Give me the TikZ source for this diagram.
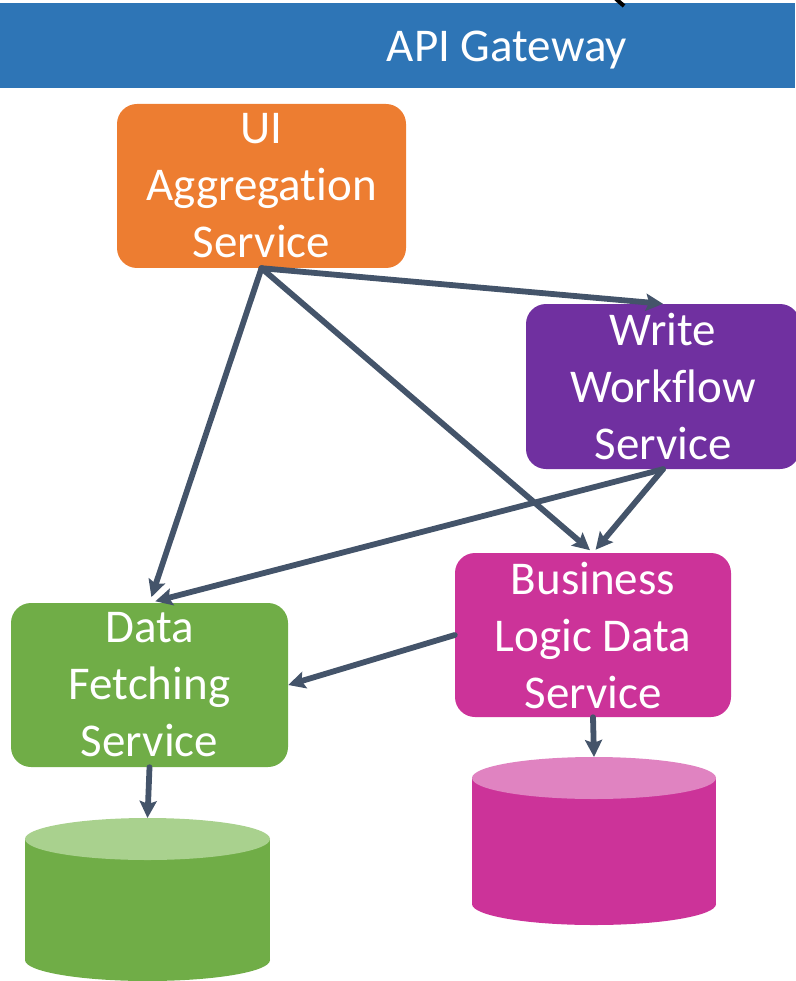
\documentclass[tikz,border=0pt]{standalone}
\usepackage{fontspec}
\setmainfont{Carlito}[Ligatures=NoCommon,Contextuals=NoAlternate]
\usetikzlibrary{arrows.meta}
\definecolor{gwblue}{HTML}{2E75B6}
\definecolor{uiorange}{HTML}{ED7D31}
\definecolor{wwpurple}{HTML}{7030A0}
\definecolor{blmagenta}{HTML}{CC3399}
\definecolor{blmagentalight}{HTML}{E083C1}
\definecolor{dfgreen}{HTML}{70AD47}
\definecolor{dfgreenlight}{HTML}{A9D18E}
\definecolor{arrowc}{HTML}{44546A}
\begin{document}
\begin{tikzpicture}[x=1pt,y=-1pt,
  svc/.style={rounded corners=20pt, inner sep=0pt, align=center, text=white,
    font=\fontsize{47}{57}\selectfont},
  link/.style={draw=arrowc, line width=5.8pt, line cap=round,
    -{Stealth[length=17pt,width=17pt,inset=3pt]}}]
\useasboundingbox (0,0) rectangle (795,981);
% gateway bar
\node[fill=gwblue, minimum width=795pt, minimum height=85pt, inner sep=0pt, anchor=north west] (gw) at (0,3) {};
\node[text=white, font=\fontsize{47}{57}\selectfont, anchor=base, inner sep=0pt] (gwtext) at (507,62) {API Gateway};
\draw[line width=4pt] (616,-1) .. controls (620,2) .. (624,6);
% services
\node[svc, fill=uiorange, minimum width=289pt, minimum height=164pt] (ui) at (261.5,186) {UI\\Aggregation\\Service};
\node[svc, fill=wwpurple, minimum width=274pt, minimum height=165pt] (ww) at (663,386.5) {Write\\Workflow\\Service};
\node[svc, fill=blmagenta, minimum width=276pt, minimum height=164pt] (bl) at (593,635) {Business\\Logic Data\\Service};
\node[svc, fill=dfgreen, minimum width=277pt, minimum height=164pt] (df) at (149.5,685) {Data\\Fetching\\Service};
% cylinders
\fill[dfgreen] (25,839) rectangle (270,960);
\fill[dfgreen] (147.5,960) ellipse[x radius=122.5, y radius=21];
\fill[dfgreenlight] (147.5,839) ellipse[x radius=122.5, y radius=21];
\coordinate (cylG) at (147.5,818);
\fill[blmagenta] (472,778) rectangle (716,904);
\fill[blmagenta] (594,904) ellipse[x radius=122, y radius=21];
\fill[blmagentalight] (594,778) ellipse[x radius=122, y radius=21];
\coordinate (cylM) at (594,757);
% connectors
\draw[link] (ui.south) -- (ww.north);
\draw[link, shorten >=6pt] (ui.south) -- (df.north);
\draw[link, shorten >=4pt] (ui.south) -- (bl.north);
\draw[link, shorten >=4pt] (ww.south) -- (bl.north);
\draw[link, shorten >=6pt] (ww.south) -- (df.north);
\draw[link] (bl.west) -- (df.east);
\draw[link] (bl.south) -- (cylM);
\draw[link] (df.south) -- (cylG);
\end{tikzpicture}
\end{document}
